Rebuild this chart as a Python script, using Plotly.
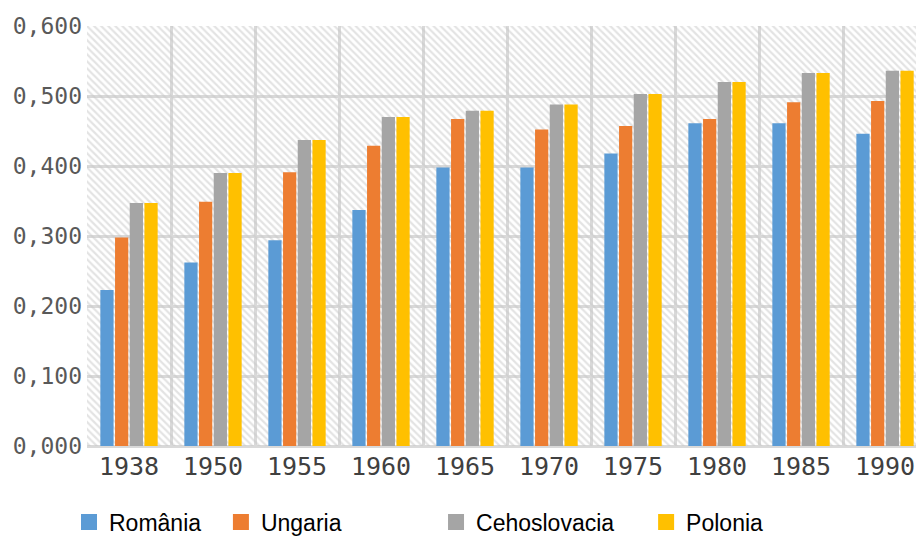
import plotly.graph_objects as go

years = ["1938", "1950", "1955", "1960", "1965", "1970", "1975", "1980", "1985", "1990"]
romania = [0.223, 0.262, 0.294, 0.337, 0.398, 0.398, 0.418, 0.461, 0.461, 0.446]
ungaria = [0.298, 0.349, 0.391, 0.429, 0.467, 0.452, 0.457, 0.467, 0.491, 0.493]
cehoslovacia = [0.347, 0.390, 0.437, 0.470, 0.479, 0.488, 0.503, 0.520, 0.533, 0.536]
polonia = [0.347, 0.390, 0.437, 0.470, 0.479, 0.488, 0.503, 0.520, 0.533, 0.536]

series = [
    ("România", romania, "#5b9bd5"),
    ("Ungaria", ungaria, "#ed7d31"),
    ("Cehoslovacia", cehoslovacia, "#a5a5a5"),
    ("Polonia", polonia, "#ffc000"),
]
Y_MAX = 0.6
X_RANGE = [-0.5, 9.464]
GRID = "#d9d9d9"

fig = go.Figure()

# hatched plot background (xaxis "x"), drawn under the data subplot
fig.add_trace(go.Bar(
    x=years, y=[Y_MAX] * len(years), width=1,
    marker=dict(color="rgba(0,0,0,0)", line_width=0,
                pattern=dict(shape="\\", fgcolor="#c8c8c8", bgcolor="rgba(0,0,0,0)",
                             size=5, solidity=0.45)),
    showlegend=False, hoverinfo="skip", xaxis="x", yaxis="y",
))

legend_x = [-0.0215, 0.160, 0.417, 0.668]
for i, (name, vals, col) in enumerate(series):
    lg = "legend" if i == 0 else f"legend{i + 1}"
    fig.add_trace(go.Bar(x=years, y=vals, name=name, marker_color=col,
                         marker_line_width=0, showlegend=False,
                         xaxis="x2", yaxis="y"))
    # legend entry with a bigger square icon
    fig.add_trace(go.Scatter(x=[None], y=[None], mode="markers", name=name,
                             marker=dict(symbol="square", size=18, color=col),
                             legend=lg, xaxis="x2", yaxis="y"))

legend_common = dict(orientation="h", y=-0.181, yanchor="middle", xanchor="left",
                     bgcolor="rgba(0,0,0,0)",
                     font=dict(family="Liberation Sans, Arial", size=23, color="#000000"))
layout_legends = {}
for i, lx in enumerate(legend_x):
    key = "legend" if i == 0 else f"legend{i + 1}"
    layout_legends[key] = dict(x=lx, **legend_common)

# page body has an 8px margin, so the figure is sized to end at the window edge
fig.update_layout(
    width=916, height=528,
    margin=dict(l=79, r=0, t=18, b=90, autoexpand=False),
    paper_bgcolor="white", plot_bgcolor="white",
    barmode="group", bargap=0.30, bargroupgap=0.1,
    separators=",.",
    xaxis=dict(type="category", categoryorder="array", categoryarray=years,
               range=X_RANGE, tickson="boundaries", ticks="",
               showgrid=True, gridcolor=GRID, gridwidth=3,
               showline=False, zeroline=False, ticklabelstandoff=3,
               tickfont=dict(family="DejaVu Sans Mono", size=25, color="#404040")),
    xaxis2=dict(type="category", categoryorder="array", categoryarray=years,
                range=X_RANGE, overlaying="x", visible=False),
    yaxis=dict(range=[0, Y_MAX], dtick=0.1, tickformat=".3f",
               showgrid=True, gridcolor=GRID, gridwidth=3,
               zeroline=True, zerolinecolor=GRID, zerolinewidth=3,
               ticks="", ticklabelstandoff=4,
               tickfont=dict(family="DejaVu Sans Mono", size=23, color="#595959")),
    showlegend=True,
    **layout_legends,
)

fig.write_html("out.html")
